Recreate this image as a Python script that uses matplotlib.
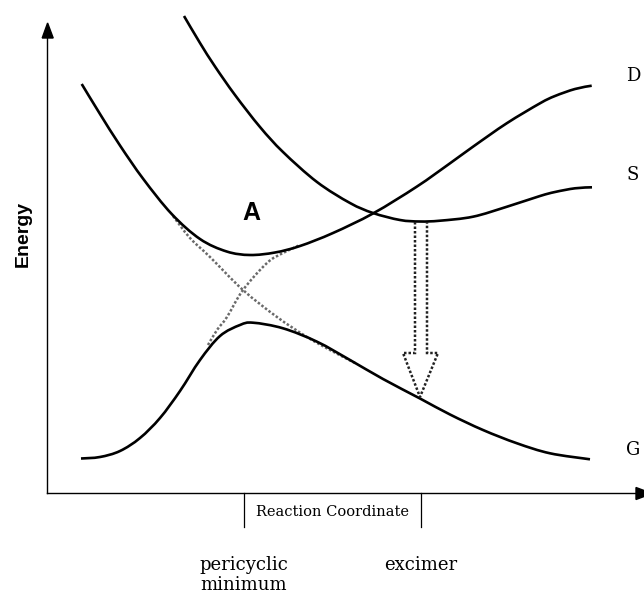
import matplotlib
matplotlib.use("Agg")
import matplotlib.pyplot as plt
from matplotlib.patches import Polygon, PathPatch
from matplotlib.path import Path

# ---- data (pixel coordinates, y downwards) ----
curve_D_x = [81.7, 100, 120, 143.3, 171.7, 200, 226.7, 250, 275, 300, 333, 373.3, 416.7, 450, 473, 506.7, 540, 555, 575, 591.7]
curve_D_y = [84, 114, 145.5, 179, 214, 239, 251.5, 255, 252.5, 246, 233, 213.3, 186.7, 163.3, 146.7, 123.3, 103.3, 96, 89, 85.7]

curve_S_x = [184, 200, 215, 235, 260, 283, 317, 350, 373, 400, 420, 440, 473, 507, 540, 555, 575, 592]
curve_S_y = [16, 43, 66.5, 95, 127, 152, 182, 203, 213, 220, 221.5, 220.7, 216.7, 206.7, 196, 192, 188.3, 187.3]

curve_G_x = [81, 100, 120, 140, 160, 180, 200, 220, 240, 253, 283, 317, 350, 383, 420, 450, 483, 517, 550, 590]
curve_G_y = [458.5, 457, 451, 438, 418, 391, 360, 336, 325, 322.7, 328.3, 341.7, 360, 379, 398.5, 414.5, 430, 443.3, 453.3, 459.3]

diab1_x = [173, 190, 210, 243, 277, 307, 330, 355]
diab1_y = [216, 238, 257, 290, 317, 337, 350, 363]
diab2_x = [208, 217, 227, 243, 267, 283, 300]
diab2_y = [345, 330, 317, 290, 263, 253, 245]

state_labels = ["D", "S", "G"]
state_label_y = [76, 175.5, 450]
coord_labels = [["pericyclic", "minimum"], ["excimer"]]
coord_x = [244, 421]

arrow_x = [415, 427]
arrow_top = 222
arrow_head_y = 353
arrow_head_x = [403, 438]
arrow_tip = (420, 397)


def smooth_path(xs, ys):
    """Cubic Bezier path through the read points (Catmull-Rom tangents)."""
    p = list(zip(xs, ys))
    n = len(p)
    verts = [p[0]]
    codes = [Path.MOVETO]
    for i in range(n - 1):
        p0 = p[i - 1] if i > 0 else p[i]
        p1, p2 = p[i], p[i + 1]
        p3 = p[i + 2] if i + 2 < n else p[i + 1]
        c1 = (p1[0] + (p2[0] - p0[0]) / 6, p1[1] + (p2[1] - p0[1]) / 6)
        c2 = (p2[0] - (p3[0] - p1[0]) / 6, p2[1] - (p3[1] - p1[1]) / 6)
        verts += [c1, c2, p2]
        codes += [Path.CURVE4] * 3
    return Path(verts, codes)


# ---- figure ----
fig = plt.figure(figsize=(6.44, 5.94), dpi=100)
ax = fig.add_axes([0, 0, 1, 1])
ax.set_xlim(0, 644)
ax.set_ylim(594, 0)
ax.axis("off")

for dx, dy in [(diab1_x, diab1_y), (diab2_x, diab2_y)]:
    ax.add_patch(PathPatch(smooth_path(dx, dy), fill=False, edgecolor="#6a6a6a",
                           lw=1.8, ls=(0, (1, 0.8)), capstyle="butt"))
for cx, cy in [(curve_D_x, curve_D_y), (curve_S_x, curve_S_y), (curve_G_x, curve_G_y)]:
    ax.add_patch(PathPatch(smooth_path(cx, cy), fill=False, edgecolor="black",
                           lw=1.9, joinstyle="round", zorder=2))

# hollow dotted arrow
arrow_pts = [(arrow_x[0], arrow_top), (arrow_x[0], arrow_head_y), (arrow_head_x[0], arrow_head_y),
             arrow_tip, (arrow_head_x[1], arrow_head_y), (arrow_x[1], arrow_head_y), (arrow_x[1], arrow_top)]
ax.add_patch(Polygon(arrow_pts, closed=False, fill=False, edgecolor="#222222",
                     lw=1.8, ls=(0, (1, 0.8)), zorder=3))

# axes lines with arrowheads
ax.plot([47.5, 47.5], [493, 37], color="black", lw=1.0)
ax.add_patch(Polygon([(42.2, 38), (53.2, 38), (47.6, 23)], closed=True, color="black"))
ax.plot([47, 637], [493, 493], color="black", lw=1.0)
ax.add_patch(Polygon([(636, 487.5), (636, 499.5), (652, 493.5)], closed=True, color="black", clip_on=False))
for x in coord_x:
    ax.plot([x, x], [493, 527], color="black", lw=0.9)

# texts
ax.text(23, 234, "Energy", rotation=90, ha="center", va="center",
        family="Liberation Sans", weight="bold", fontsize=14)
ax.text(251, 213, "A", ha="center", va="center", family="Liberation Sans", weight="bold", fontsize=18)
for lab, y in zip(state_labels, state_label_y):
    ax.text(633, y, lab, ha="center", va="center", family="DejaVu Serif", fontsize=13)
ax.text(332.7, 516, "Reaction Coordinate", ha="center", va="baseline", family="DejaVu Serif", fontsize=10.5)
for x, lines in zip(coord_x, coord_labels):
    for i, line in enumerate(lines):
        ax.text(x, 570 + 19.5 * i, line, ha="center", va="baseline", family="DejaVu Serif", fontsize=13)

fig.savefig("out.png", dpi=100)
